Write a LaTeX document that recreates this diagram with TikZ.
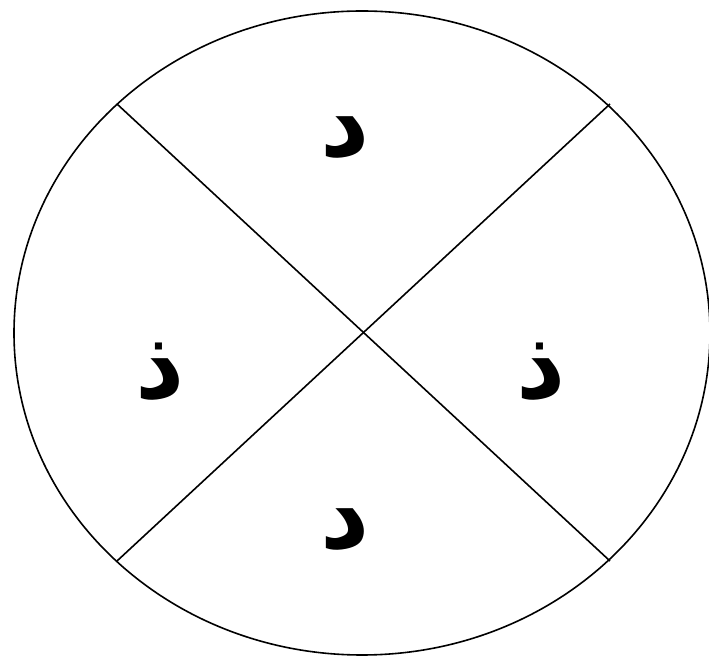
\documentclass[tikz,border=0pt]{standalone}
\usepackage{fontspec}
\newfontfamily\arabicfont[Script=Arabic]{DejaVu Sans}
\TeXXeTstate=1
\usepackage{tikz}
\tikzset{letter/.style={font=\arabicfont\bfseries\fontsize{48}{52}\selectfont, inner sep=0pt}}

\begin{document}
\begin{tikzpicture}[x=0.5pt, y=-0.5pt]
    \useasboundingbox (0, 0) rectangle (709, 657);
    \coordinate (c) at (362, 333);
    \draw[thick] (c) ellipse (174pt and 161pt);
    % diagonals
    \coordinate (tl) at (117, 104);
    \coordinate (br) at (610, 561);
    \coordinate (tr) at (610, 104);
    \coordinate (bl) at (117, 561);
    \draw[thick] (tl) -- (br);
    \draw[thick] (tr) -- (bl);
    % letters
    \node[letter] (top) at (345, 138) {\beginR د\endR};
    \node[letter] (bottom) at (345, 530) {\beginR د\endR};
    \node[letter] (left) at (160, 372) {\beginR ذ\endR};
    \node[letter] (right) at (541, 372) {\beginR ذ\endR};
\end{tikzpicture}
\end{document}
